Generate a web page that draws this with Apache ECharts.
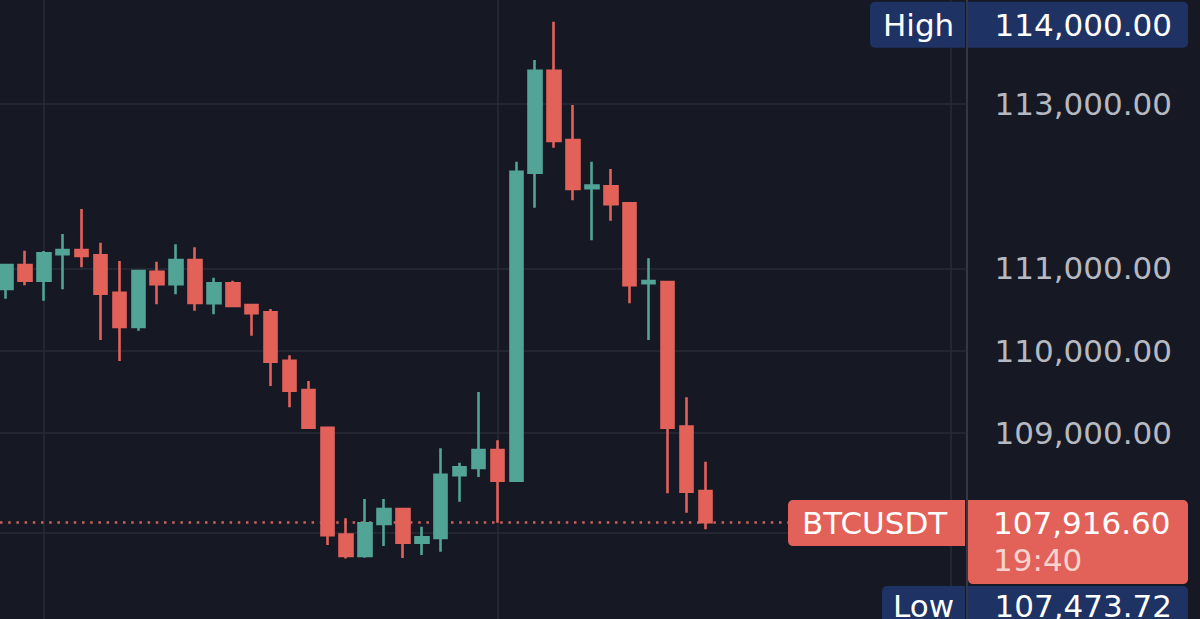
<!DOCTYPE html>
<html>
<head>
<meta charset="utf-8">
<script src="https://cdn.jsdelivr.net/npm/echarts@6/dist/echarts.min.js"></script>
<style>
  html, body { margin: 0; padding: 0; background: #161923; }
  #chart { width: 1200px; height: 619px; }
</style>
</head>
<body>
<div id="chart"></div>
<script>
// ---- data (5-minute candles) ----
const candleIndex = [0, 1, 2, 3, 4, 5, 6, 7, 8, 9, 10, 11, 12, 13, 14, 15, 16, 17, 18, 19,
                     20, 21, 22, 23, 24, 25, 26, 27, 28, 29, 30, 31, 32, 33, 34, 35, 36, 37];
const opens  = [110751, 111043, 110852, 111173, 111225, 111160, 110706, 110289, 110961, 110808,
                111103, 110577, 110820, 110556, 110467, 109879, 109523, 109064, 107764, 107505,
                107894, 108076, 107666, 107723, 108486, 108575, 108793, 108420, 112165, 113405,
                112562, 111975, 111999, 111793, 110820, 110836, 109077, 108295];
const closes = [111043, 110852, 111185, 111225, 111152, 110694, 110289, 110970, 110808, 111103,
                110581, 110820, 110544, 110455, 109867, 109514, 109064, 107756, 107505, 107902,
                108076, 107666, 107732, 108493, 108583, 108793, 108420, 112177, 113405, 112550,
                111967, 112007, 111781, 110796, 110848, 109064, 108286, 107916.60];
const lows   = [110633, 110796, 110609, 110747, 111015, 110131, 109875, 110244, 110565, 110686,
                110487, 110443, 110540, 110183, 109571, 109313, 109060, 107638, 107473.72, 107484,
                107626, 107480, 107517, 107557, 108165, 108465, 107909, 108404, 111739, 112469,
                111829, 111343, 111581, 110577, 110131, 108267, 108031, 107829];
const highs  = [111055, 111216, 111213, 111419, 111723, 111314, 111091, 110982, 111083, 111294,
                111258, 110888, 110852, 110560, 110508, 109945, 109632, 109070, 107963, 108198,
                108198, 108088, 107861, 108814, 108639, 109499, 108911, 112299, 113535, 114000,
                112988, 112299, 112210, 111809, 111124, 110840, 109434, 108651];

const priceTickLabels = [113000, 111000, 110000, 109000];
const gridPrices = [113000, 111000, 110000, 109000, 107784];
const gridCandles = [2, 26, 50];

const symbolName = 'BTCUSDT';
const lastPrice = 107916.60;
const lastTime = '19:40';
const highLabel = 'High';
const sessionHigh = 114000.00;
const lowLabel = 'Low';
const sessionLow = 107473.72;

// ---- styling ----
const UP = '#52a497';
const DOWN = '#e2625a';
const GRID = '#272b36';
const NAVY = '#1e3264';
const FONT = '"DejaVu Sans", sans-serif';
const FS = 31;

const fmt = v => v.toLocaleString('en-US', { minimumFractionDigits: 2, maximumFractionDigits: 2 });

const ohlc = candleIndex.map((x, i) => [x, opens[i], closes[i], lows[i], highs[i]]);

const chart = echarts.init(document.getElementById('chart'), null, { renderer: 'svg' });

const option = {
  backgroundColor: '#161923',
  animation: false,
  grid: { left: 0, top: 0, width: 967, bottom: 0, containLabel: false },
  xAxis: {
    type: 'value',
    min: -0.3175,
    max: 50.847,
    show: false,
    splitLine: { show: false }
  },
  yAxis: {
    type: 'value',
    position: 'right',
    min: 106738.6,
    max: 114264.4,
    scale: true,
    splitLine: { show: false },
    axisTick: { show: false },
    axisLine: { show: true, onZero: false, lineStyle: { color: '#343845', width: 2 } },
    axisLabel: {
      customValues: priceTickLabels,
      formatter: v => fmt(v),
      color: '#b6b9c1',
      fontSize: FS,
      fontFamily: FONT,
      align: 'right',
      margin: 205
    }
  },
  series: [{
    type: 'candlestick',
    data: ohlc,
    encode: { x: 0, y: [1, 2, 3, 4] },
    barWidth: 13,
    itemStyle: {
      color: UP, color0: DOWN,
      borderColor: UP, borderColor0: DOWN,
      borderWidth: 2.6
    },
    z: 5,
    markLine: {
      silent: true,
      symbol: ['none', 'none'],
      label: { show: false },
      animation: false,
      z: 1,
      data: [
        ...gridPrices.map(v => ({ yAxis: v, lineStyle: { color: GRID, width: 1.5, type: 'solid' } })),
        ...gridCandles.map(v => ({ xAxis: v, lineStyle: { color: GRID, width: 1.5, type: 'solid' } })),
        { yAxis: lastPrice, lineStyle: { color: '#c8605a', width: 2.5, type: [2.5, 5.7] } }
      ]
    }
  }]
};
chart.setOption(option);

// ---- price tags positioned through the chart's own y scale ----
const yOf = v => chart.convertToPixel({ yAxisIndex: 0 }, v);
const yHigh = yOf(sessionHigh) + 3;
const yLast = yOf(lastPrice) + 1;
const lowTop = yLast - 23 + 84 + 2;

function txt(text, x, y, align, color) {
  return {
    type: 'text', z: 110,
    style: { text, x, y, fill: color || '#ffffff', fontSize: FS, fontFamily: FONT,
             textAlign: align, textVerticalAlign: 'middle' }
  };
}
function box(x, y, w, h, r, fill) {
  return { type: 'rect', z: 100, shape: { x, y, width: w, height: h, r }, style: { fill } };
}

chart.setOption({
  graphic: [
    box(870, yHigh - 23, 95, 46, [5, 0, 0, 5], NAVY),
    box(968, yHigh - 23, 220, 46, [0, 5, 5, 0], NAVY),
    txt(highLabel, 883, yHigh, 'left'),
    txt(fmt(sessionHigh), 1172, yHigh, 'right'),

    box(788, yLast - 23, 177, 46, [5, 0, 0, 5], DOWN),
    box(968, yLast - 23, 220, 84, [0, 5, 5, 5], DOWN),
    txt(symbolName, 802, yLast, 'left'),
    txt(fmt(lastPrice), 993, yLast, 'left'),
    txt(lastTime, 993, yLast + 37, 'left', '#f7d3ce'),

    box(882, lowTop, 83, 60, [5, 0, 0, 0], NAVY),
    box(968, lowTop, 220, 60, [0, 5, 0, 0], NAVY),
    txt(lowLabel, 893, lowTop + 20, 'left'),
    txt(fmt(sessionLow), 1172, lowTop + 20, 'right')
  ]
});
</script>
</body>
</html>
